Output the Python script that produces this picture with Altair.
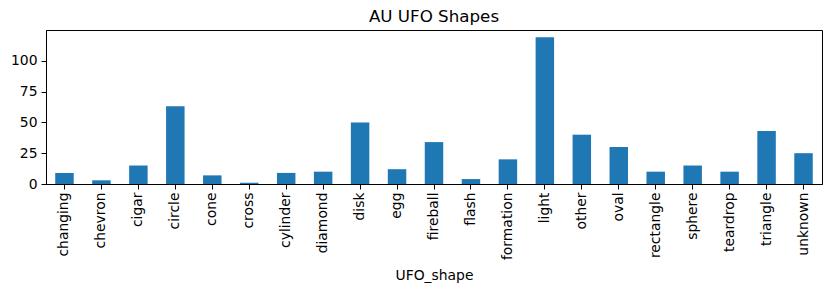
import altair as alt
import pandas as pd

shapes = ["changing", "chevron", "cigar", "circle", "cone", "cross", "cylinder",
          "diamond", "disk", "egg", "fireball", "flash", "formation", "light",
          "other", "oval", "rectangle", "sphere", "teardrop", "triangle", "unknown"]
counts = [9, 3, 15, 63, 7, 1, 9, 10, 50, 12, 34, 4, 20, 119, 40, 30, 10, 15, 10, 43, 25]
y_ticks = [0, 25, 50, 75, 100]

df = pd.DataFrame({"UFO_shape": shapes, "count": counts})

FONT = "DejaVu Sans"

chart = alt.Chart(df).mark_bar(color="#1f77b4").encode(
    x=alt.X("UFO_shape:N", sort=shapes,
            scale=alt.Scale(paddingInner=0.5, paddingOuter=0.25),
            axis=alt.Axis(title="UFO_shape", labelAngle=270, labelFont=FONT,
                          labelFontSize=13.9, labelColor="black", titleFont=FONT,
                          titleFontSize=13.9, titleFontWeight="normal", titleColor="black",
                          domainColor="black", tickColor="black", tickSize=5,
                          labelPadding=3, titlePadding=9)),
    y=alt.Y("count:Q", scale=alt.Scale(domain=[0, 124.95], nice=False),
            axis=alt.Axis(title=None, values=y_ticks, grid=False, labelFont=FONT,
                          labelFontSize=13.9, labelColor="black", domainColor="black",
                          tickColor="black", tickSize=5, labelPadding=4)),
).properties(
    width=776,
    height=154,
    title=alt.TitleParams("AU UFO Shapes", font=FONT, fontSize=16.7, fontWeight="normal",
                          color="black", offset=4),
    autosize=alt.AutoSizeParams(type="none"),
    padding={"left": 46, "top": 30, "right": 9, "bottom": 107},
).configure_view(stroke="black", strokeWidth=1)

chart.save("out.html", embed_options={"renderer": "svg", "actions": False})
